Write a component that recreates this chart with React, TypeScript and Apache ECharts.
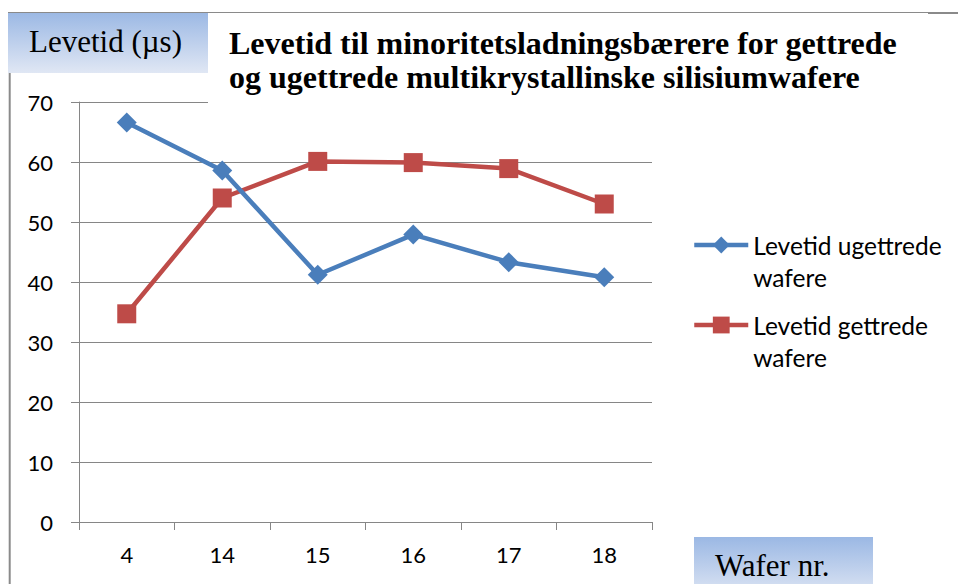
import React, { useEffect, useRef } from "react";
import * as echarts from "echarts";

const categories = ["4", "14", "15", "16", "17", "18"];
const ugettrede = [66.6, 58.6, 41.2, 47.9, 43.3, 40.8];
const gettrede = [34.7, 54.0, 60.1, 59.9, 58.9, 53.0];
const seriesNames = ["Levetid ugettrede wafere", "Levetid gettrede wafere"];
const titleLines = [
  "Levetid til minoritetsladningsbærere for gettrede",
  "og ugettrede multikrystallinske silisiumwafere",
];
const yAxisTitle = "Levetid (µs)";
const xAxisTitle = "Wafer nr.";

const BLUE = "#4A7EBB";
const RED = "#BE4B48";
const GRID = "#868686";
const BORDER = "#8a8a8a";
const SANS = "Lato";
const SERIF = "Liberation Serif";

const boxGradient = () =>
  new echarts.graphic.LinearGradient(0, 0, 0, 1, [
    { offset: 0, color: "#9bb8e4" },
    { offset: 1, color: "#e0e7f4" },
  ]);

export default function App() {
  const ref = useRef<HTMLDivElement>(null);
  useEffect(() => {
    if (!ref.current) return;
    const chart = echarts.init(ref.current, undefined, { renderer: "svg" });
    chart.setOption({
      animation: false,
      backgroundColor: "#ffffff",
      legend: {
        orient: "vertical",
        left: 692,
        top: 197,
        padding: 0,
        itemGap: -16,
        itemWidth: 54,
        itemHeight: 21,
        data: seriesNames,
        lineStyle: { width: 4.5 },
        formatter: (name: string) => "\n" + name.replace(" wafere", "\nwafere"),
        textStyle: {
          fontFamily: SANS,
          fontSize: 24.5,
          lineHeight: 32,
          color: "#000",
        },
      },
      grid: {
        left: 79,
        right: 306,
        top: 102,
        bottom: 62,
        containLabel: false,
      },
      xAxis: {
        type: "category",
        data: categories,
        boundaryGap: true,
        axisLine: { lineStyle: { color: GRID, width: 1 } },
        axisTick: { show: true, length: 8, lineStyle: { color: GRID } },
        axisLabel: {
          fontFamily: SANS,
          fontSize: 22,
          color: "#000",
          margin: 21,
        },
        splitLine: { show: false },
      },
      yAxis: {
        type: "value",
        min: 0,
        max: 70,
        interval: 10,
        axisLine: { show: true, lineStyle: { color: GRID, width: 1 } },
        axisTick: { show: true, length: 8, lineStyle: { color: GRID } },
        axisLabel: {
          fontFamily: SANS,
          fontSize: 22,
          color: "#000",
          margin: 26,
        },
        splitLine: { show: true, lineStyle: { color: GRID, width: 1 } },
      },
      series: [
        {
          name: seriesNames[0],
          type: "line",
          data: ugettrede,
          symbol: "diamond",
          symbolSize: 20,
          lineStyle: { color: BLUE, width: 4.5 },
          itemStyle: { color: BLUE },
          z: 3,
        },
        {
          name: seriesNames[1],
          type: "line",
          data: gettrede,
          symbol: "rect",
          symbolSize: 19,
          lineStyle: { color: RED, width: 4.5 },
          itemStyle: { color: RED },
          z: 2,
        },
      ],
      graphic: [
        {
          type: "rect",
          shape: { x: 208, y: 13, width: 700, height: 91 },
          style: { fill: "#ffffff" },
          z: 9,
        },
        {
          type: "text",
          x: 229,
          y: 60,
          style: {
            text: titleLines.join("\n"),
            fontFamily: SERIF,
            fontWeight: "bold",
            fontSize: 32,
            lineHeight: 34,
            fill: "#000",
            verticalAlign: "middle",
          },
          z: 11,
        },
        {
          type: "rect",
          shape: { x: 8, y: 12, width: 200, height: 61 },
          style: { fill: boxGradient() },
          z: 10,
        },
        {
          type: "text",
          x: 29,
          y: 41.5,
          style: {
            text: yAxisTitle,
            fontFamily: SERIF,
            fontSize: 31,
            fill: "#000",
            verticalAlign: "middle",
          },
          z: 11,
        },
        {
          type: "rect",
          shape: { x: 694, y: 537, width: 179, height: 61 },
          style: { fill: boxGradient() },
          z: 10,
        },
        {
          type: "text",
          x: 715,
          y: 565.5,
          style: {
            text: xAxisTitle,
            fontFamily: SERIF,
            fontSize: 31,
            fill: "#000",
            verticalAlign: "middle",
          },
          z: 11,
        },
        {
          type: "line",
          shape: { x1: 8, y1: 12.5, x2: 928, y2: 12.5 },
          style: { stroke: BORDER, lineWidth: 1 },
          z: 12,
        },
        {
          type: "line",
          shape: { x1: 928, y1: 13, x2: 958, y2: 13 },
          style: { stroke: BORDER, lineWidth: 2 },
          z: 12,
        },
        {
          type: "line",
          shape: { x1: 9.7, y1: 73, x2: 9.7, y2: 584 },
          style: { stroke: BORDER, lineWidth: 2 },
          z: 12,
        },
      ],
    });
    return () => chart.dispose();
  }, []);
  return (
    <div
      ref={ref}
      style={{ position: "absolute", left: 0, top: 0, width: 958, height: 584 }}
    />
  );
}
